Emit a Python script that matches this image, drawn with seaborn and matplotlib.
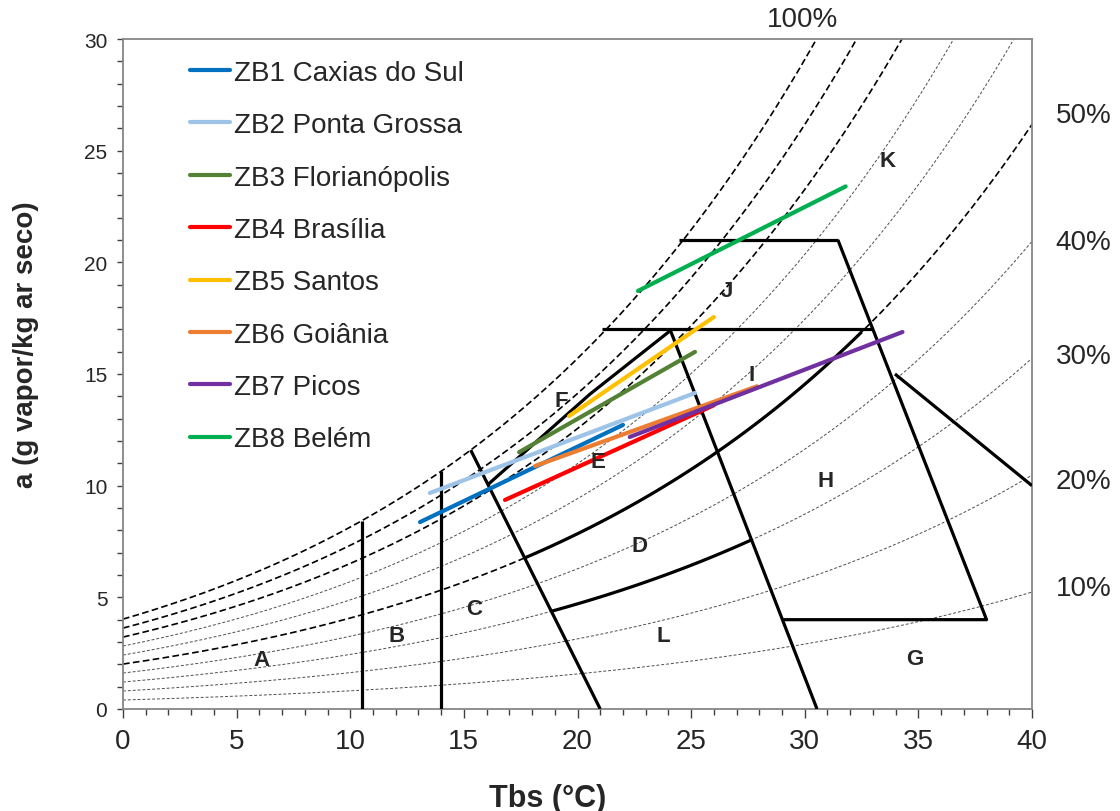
import numpy as np
import pandas as pd
import matplotlib
matplotlib.use("Agg")
import matplotlib.pyplot as plt
import seaborn as sns
from matplotlib.ticker import MultipleLocator

# ---------------- data ----------------
zb_names = ["ZB1 Caxias do Sul", "ZB2 Ponta Grossa", "ZB3 Florianópolis", "ZB4 Brasília",
            "ZB5 Santos", "ZB6 Goiânia", "ZB7 Picos", "ZB8 Belém"]
zb_colors = ["#0070C0", "#9DC3E6", "#548235", "#FF0000", "#FFC000", "#ED7D31", "#7030A0", "#00B050"]
zb_t_start = [13.07, 13.5, 17.43, 16.81, 19.63, 18.13, 22.3, 22.66]
zb_a_start = [8.37, 9.67, 11.5, 9.36, 13.12, 10.88, 12.18, 18.72]
zb_t_end = [22.0, 25.17, 25.17, 26.0, 26.0, 27.9, 34.3, 31.8]
zb_a_end = [12.72, 14.15, 15.99, 13.6, 17.55, 14.45, 16.88, 23.4]

rh_dashed = [100, 90, 80, 50]
rh_dotted = [70, 60, 40, 30, 20, 10]
rh_right_labels = ["50%", "40%", "30%", "20%", "10%"]
rh_right_label_a = [26.6, 20.9, 15.8, 10.2, 5.4]

# zone boundaries (dry bulb °C, g/kg)
vertical_t = [10.5, 14.0]                     # lines from 0 up to saturation
line_C = [(15.3, None), (21.0, 0.0)]          # None -> on saturation curve
line_L = [(24.07, 17.0), (30.54, 0.0)]
line_17 = [(21.1, 17.0), (33.0, 17.0)]
line_21 = [(24.47, 21.0), (31.46, 21.0)]
line_G = [(31.46, 21.0), (38.0, 4.0), (29.0, 4.0)]
line_H = [(33.97, 15.0), (40.0, 10.0)]
line_EF = [(16.06, 10.05), (20.55, 14.1), (24.07, 16.93)]
curve_50 = (50, 17.66, 32.5)
curve_30 = (30, 18.84, 27.66)

zone_letters = ["A", "B", "C", "D", "E", "F", "G", "H", "I", "J", "K", "L"]
zone_t = [6.1, 12.05, 15.45, 22.75, 20.9, 19.27, 34.85, 30.93, 27.68, 26.58, 33.66, 23.76]
zone_a = [2.2, 3.3, 4.5, 7.3, 11.06, 13.8, 2.24, 10.25, 14.96, 18.76, 24.54, 3.27]

P_ATM = 95.0


def ws(T):
    ps = 0.61078 * np.exp(17.27 * T / (T + 237.3))
    return 622.0 * ps / (P_ATM - ps)


def w(T, rh):
    return rh / 100.0 * ws(T)


# ---------------- figure ----------------
sns.set_style("ticks")
plt.rcParams['font.family'] = ['Liberation Sans', 'DejaVu Sans']

fig = plt.figure(figsize=(11.2, 8.12), dpi=100)
ax = fig.add_axes([123 / 1120, 1 - 710 / 812, 909 / 1120, 670 / 812])

T = np.linspace(0, 40, 400)
for rh in rh_dotted:
    ax.plot(T, w(T, rh), color="#4d4d4d", lw=0.7, ls=(0, (3, 2)), zorder=1)
for rh in rh_dashed:
    ax.plot(T, w(T, rh), color="black", lw=1.2, ls=(0, (4, 2)), zorder=1)

blk = dict(color="black", lw=2.3, zorder=3, solid_capstyle="butt")
for t in vertical_t:
    ax.plot([t, t], [0, ws(t)], **blk)


def poly(pts):
    xs = [p[0] for p in pts]
    ys = [ws(p[0]) if p[1] is None else p[1] for p in pts]
    ax.plot(xs, ys, **blk)


for seg in [line_C, line_L, line_17, line_21, line_G, line_H, line_EF]:
    poly(seg)
for rh, t0, t1 in [curve_50, curve_30]:
    tt = np.linspace(t0, t1, 100)
    ax.plot(tt, w(tt, rh), **blk)

# climate lines
rows = []
for n, t0, a0, t1, a1 in zip(zb_names, zb_t_start, zb_a_start, zb_t_end, zb_a_end):
    rows.append((n, t0, a0))
    rows.append((n, t1, a1))
df = pd.DataFrame(rows, columns=["zona", "Tbs", "a"])
sns.lineplot(data=df, x="Tbs", y="a", hue="zona", hue_order=zb_names,
             palette=dict(zip(zb_names, zb_colors)), lw=3, estimator=None,
             sort=False, ax=ax, zorder=5)

old = ax.get_legend()
handles = old.legend_handles
labels = [t.get_text() for t in old.get_texts()]
old.remove()
for h in handles:
    h.set_linewidth(3)
ax.legend(handles, labels, loc="upper left", bbox_to_anchor=(0.0737, 0.969),
          frameon=False, fontsize=20, handlelength=1.45, handletextpad=0.15,
          labelspacing=0.95, borderpad=0, borderaxespad=0)

for L, t, a in zip(zone_letters, zone_t, zone_a):
    ax.text(t, a, L, ha="center", va="center", fontsize=16, fontweight="bold", zorder=6)

for lab, a in zip(rh_right_labels, rh_right_label_a):
    ax.text(41.05, a, lab, ha="left", va="center", fontsize=20, clip_on=False)
ax.text(29.9, 30.9, "100%", ha="center", va="center", fontsize=20, clip_on=False)

ax.set_xlim(0, 40)
ax.set_ylim(0, 30)
ax.xaxis.set_major_locator(MultipleLocator(5))
ax.xaxis.set_minor_locator(MultipleLocator(1))
ax.yaxis.set_major_locator(MultipleLocator(5))
ax.yaxis.set_minor_locator(MultipleLocator(1))
ax.tick_params(axis="x", which="major", length=6.5, width=1, color="#404040", labelsize=20, pad=7)
ax.tick_params(axis="x", which="minor", length=4.3, width=1, color="#404040")
ax.tick_params(axis="y", which="major", length=4.3, width=1, color="#404040", labelsize=15, pad=7)
ax.tick_params(axis="y", which="minor", length=4.3, width=1, color="#404040")
for s in ax.spines.values():
    s.set_color("#868686")
    s.set_linewidth(1.3)

ax.set_xlabel("Tbs (°C)", fontsize=22, fontweight="bold")
ax.set_ylabel("a (g vapor/kg ar seco)", fontsize=20, fontweight="bold")
ax.xaxis.set_label_coords(0.4675, -0.11)
ax.yaxis.set_label_coords(-0.092, 0.545)

fig.savefig("out.png", dpi=100)
